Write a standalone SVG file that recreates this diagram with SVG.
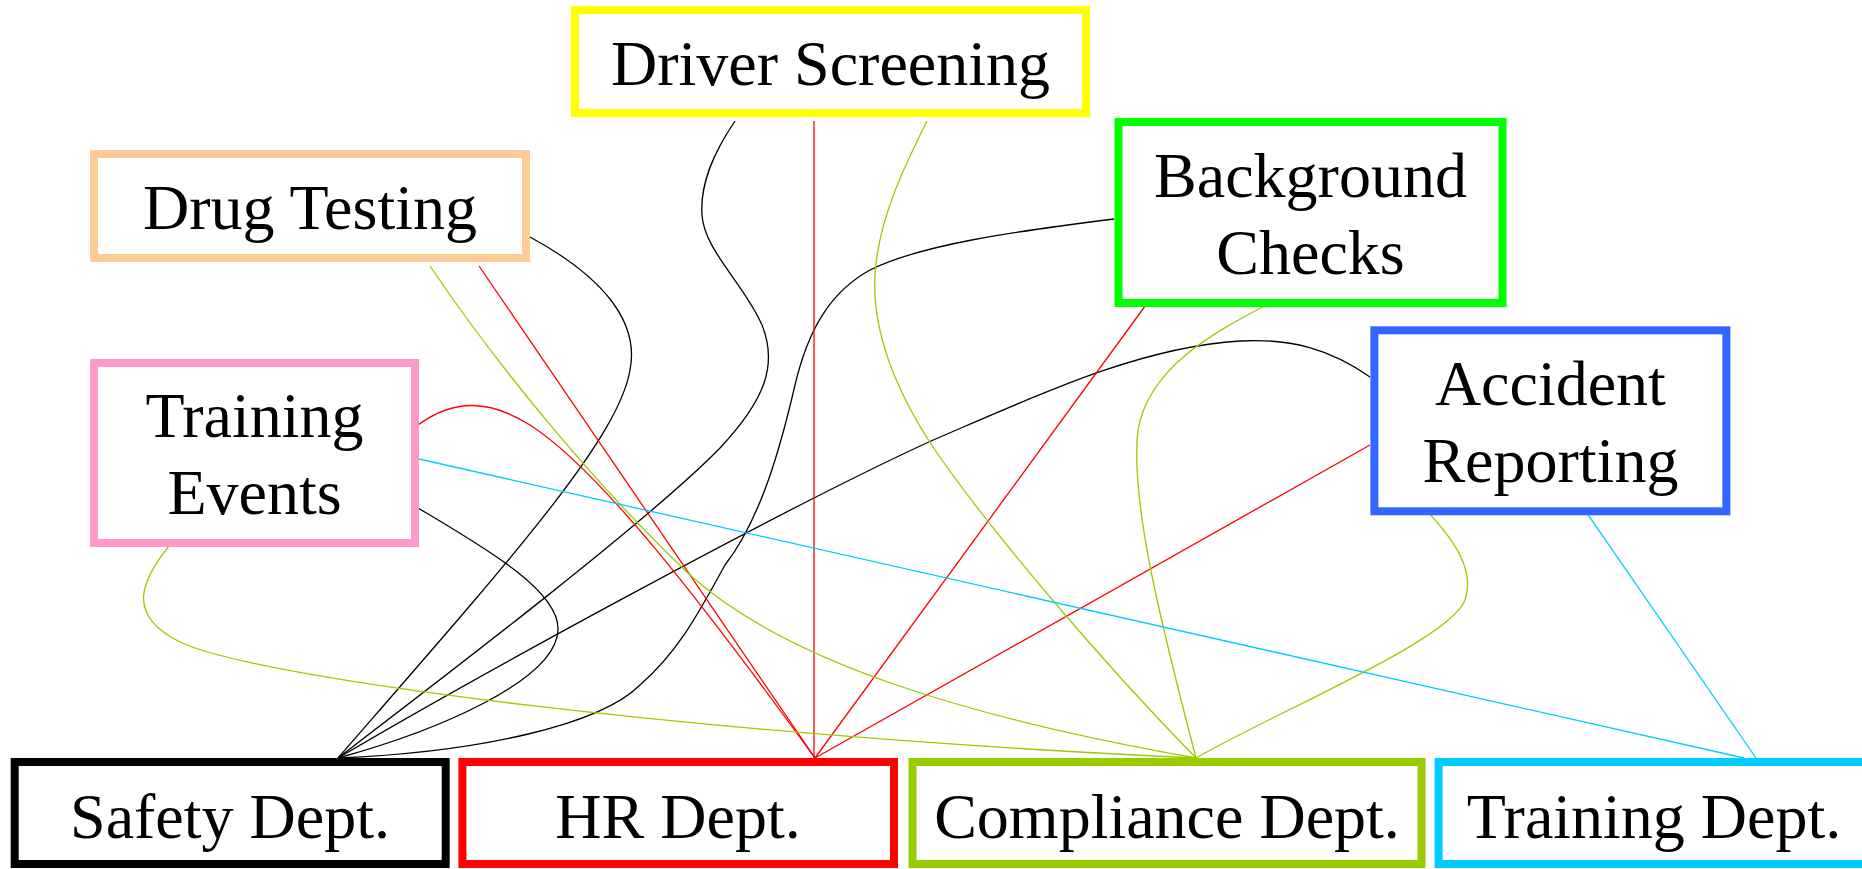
<svg xmlns="http://www.w3.org/2000/svg" width="1862" height="869" viewBox="0 0 1862 869">
<style>
.box{fill:#ffffff;stroke-width:8}
.lbl{font-family:"Liberation Serif","Times New Roman",serif;font-size:64px;fill:#000000;text-anchor:middle}
.e{fill:none;stroke-width:1.3}
.k{stroke:#000000}
.r{stroke:#ff0000}
.g{stroke:#99cc00}
.c{stroke:#00ccff}
</style>
<rect x="0" y="0" width="1862" height="869" fill="#ffffff"/>
<g id="connectors">
<!-- to Safety Dept. -->
<path class="e k" d="M530,237 C600,275 640,320 630,370 C618,440 510,560 338,758"/>
<path class="e k" d="M735,121 C712,155 700,185 702,215 C704,250 745,285 762,325 C778,365 765,400 720,448 C650,520 440,680 338,758"/>
<path class="e k" d="M1114,219 C1010,232 920,245 870,270 C830,292 808,330 795,385 C780,450 760,520 725,565 C700,610 680,650 640,685 C600,725 480,752 338,758"/>
<path class="e k" d="M1370,377 C1330,349 1290,338 1240,341 C1140,347 1040,394 931,441 C780,510 470,680 338,758"/>
<path class="e k" d="M418,508 C480,545 560,590 558,630 C556,680 440,730 338,758"/>
<!-- to HR Dept. -->
<path class="e r" d="M479,266 L815,758"/>
<path class="e r" d="M418,425 C455,398 490,400 530,425 C600,470 700,600 815,758"/>
<path class="e r" d="M814,121 L814,758"/>
<path class="e r" d="M1151,298 L815,758"/>
<path class="e r" d="M1370,445 L815,758"/>
<!-- to Compliance Dept. -->
<path class="e g" d="M430,266 C500,370 600,490 690,575 C790,665 980,720 1196,758"/>
<path class="e g" d="M927,121 C905,165 878,220 875,275 C872,330 895,390 935,450 C990,530 1100,660 1196,758"/>
<path class="e g" d="M1279,298 C1230,325 1150,360 1138,430 C1130,500 1160,620 1196,758"/>
<path class="e g" d="M1423,507 C1455,540 1475,570 1465,600 C1450,640 1280,710 1196,758"/>
<path class="e g" d="M174,540 C140,580 125,615 180,642 C260,680 700,735 1196,758"/>
<!-- to Training Dept. -->
<path class="e c" d="M419,459 L1744,758"/>
<path class="e c" d="M1582,506 L1756,758"/>
</g>
<g id="node-driver-screening">
<rect class="box" x="575" y="10" width="511" height="103" stroke="#ffff00"/>
<text class="lbl" x="830.5" y="85">Driver Screening</text>
</g>
<g id="node-drug-testing">
<rect class="box" x="94" y="154" width="432" height="104" stroke="#ffcc99"/>
<text class="lbl" x="310" y="229">Drug Testing</text>
</g>
<g id="node-training-events">
<rect class="box" x="94" y="363" width="321" height="180" stroke="#ff99cc"/>
<text class="lbl" x="254.5" y="437">Training</text>
<text class="lbl" x="254.5" y="514">Events</text>
</g>
<g id="node-background-checks">
<rect class="box" x="1118.5" y="122" width="384" height="181" stroke="#00ff00"/>
<text class="lbl" x="1310.5" y="197">Background</text>
<text class="lbl" x="1310.5" y="274">Checks</text>
</g>
<g id="node-accident-reporting">
<rect class="box" x="1374.4" y="330.3" width="352" height="181" stroke="#3366ff"/>
<text class="lbl" x="1550.4" y="405">Accident</text>
<text class="lbl" x="1550.4" y="482">Reporting</text>
</g>
<g id="node-safety-dept">
<rect class="box" x="14.7" y="762" width="431" height="102" stroke="#000000"/>
<text class="lbl" x="230" y="838">Safety Dept.</text>
</g>
<g id="node-hr-dept">
<rect class="box" x="462.4" y="762" width="431.6" height="102" stroke="#ff0000"/>
<text class="lbl" x="678" y="838">HR Dept.</text>
</g>
<g id="node-compliance-dept">
<rect class="box" x="912.5" y="762" width="509" height="102" stroke="#99cc00"/>
<text class="lbl" x="1167" y="838">Compliance Dept.</text>
</g>
<g id="node-training-dept">
<rect class="box" x="1438.6" y="762" width="431" height="102" stroke="#00ccff"/>
<text class="lbl" x="1654" y="838">Training Dept.</text>
</g>
</svg>
